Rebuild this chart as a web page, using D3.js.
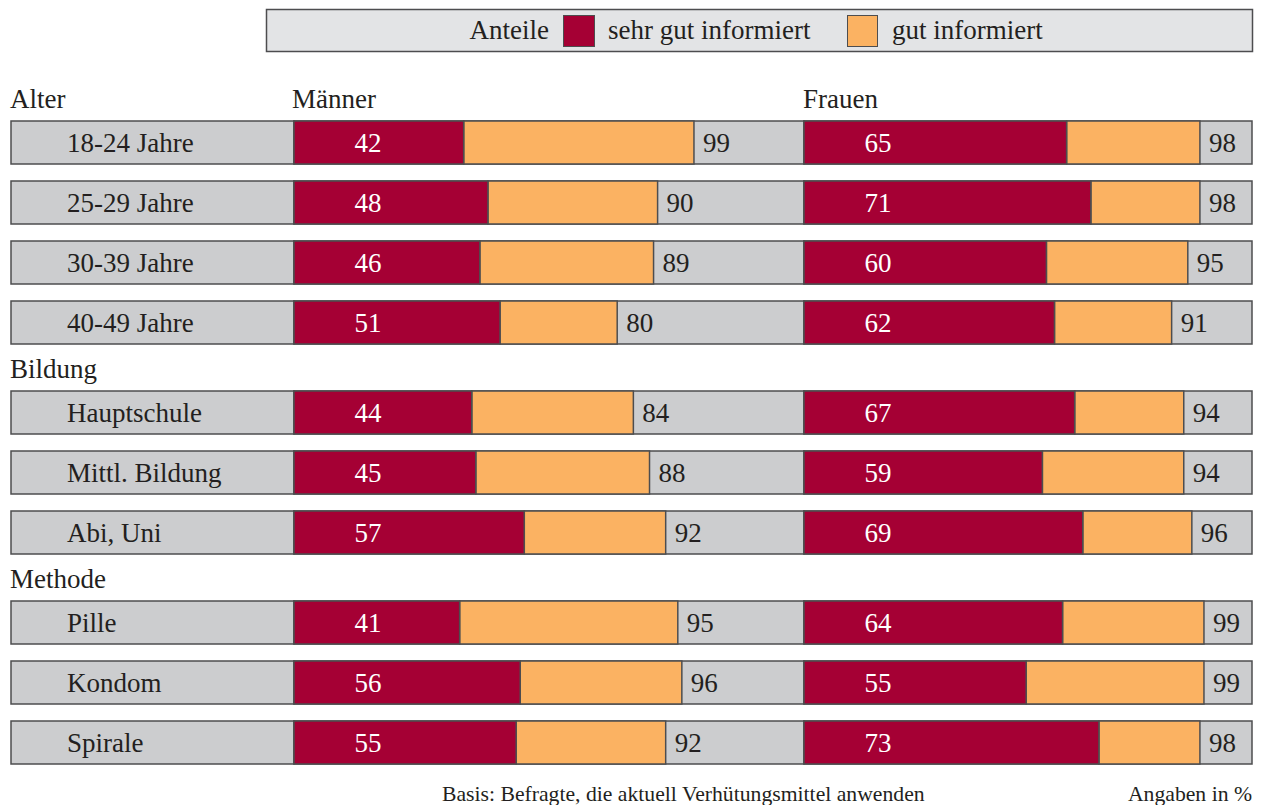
<!DOCTYPE html>
<html>
<head>
<meta charset="utf-8">
<script src="https://cdn.jsdelivr.net/npm/d3@7"></script>
<style>
  body { margin: 0; background: #fff; }
</style>
</head>
<body>
<div id="container"></div>
<script>
const width = 1262;
const height = 805;

// data
const groups = ["Alter", "Bildung", "Methode"];
const categories = ["18-24 Jahre", "25-29 Jahre", "30-39 Jahre", "40-49 Jahre",
                    "Hauptschule", "Mittl. Bildung", "Abi, Uni",
                    "Pille", "Kondom", "Spirale"];
const groupOf = [0, 0, 0, 0, 1, 1, 1, 2, 2, 2];
const menSehrGut = [42, 48, 46, 51, 44, 45, 57, 41, 56, 55];
const menTotal   = [99, 90, 89, 80, 84, 88, 92, 95, 96, 92];
const womenSehrGut = [65, 71, 60, 62, 67, 59, 69, 64, 55, 73];
const womenTotal   = [98, 98, 95, 91, 94, 94, 96, 99, 99, 98];
const panels = ["Männer", "Frauen"];
const legendLabels = ["sehr gut informiert", "gut informiert"];

const colRed = "#a50034", colOrange = "#fbb262", colGrey = "#cccdcf", colBorder = "#4d4d4f";
const ink = "#231f20";
const font = "'Liberation Serif', 'DejaVu Serif', serif";

const svg = d3.select("div#container").append("svg")
    .attr("width", width)
    .attr("height", height);

function txt(sel, size) {
    return sel.append("text")
        .style("font-family", font)
        .style("font-size", (size || 27) + "px")
        .attr("fill", ink);
}

//----------------------------SCALES----------------------------//
const rowH = 43;
// row position: index plus half a row extra for every new group
const yScale = d3.scaleLinear().domain([0, 1]).range([121, 181]);
const rowY = i => yScale(i + groupOf[i] * 0.5);

const xMen = d3.scaleLinear().domain([0, 100]).range([294, 698]);
const xWomen = d3.scaleLinear().domain([0, 100]).range([804, 1208]);
const panelEnd = [804, 1252];

//----------------------------LEGEND----------------------------//
const leg = svg.append("g");
leg.append("rect").attr("x", 266.5).attr("y", 9.5).attr("width", 986).attr("height", 42)
    .attr("fill", "#e3e4e6").attr("stroke", colBorder).attr("stroke-width", 1.5);
txt(leg).attr("x", 549).attr("y", 39).attr("text-anchor", "end").text("Anteile");
leg.append("rect").attr("x", 563.5).attr("y", 15.5).attr("width", 31).attr("height", 31)
    .attr("fill", colRed).attr("stroke", colBorder);
txt(leg).attr("x", 608).attr("y", 39).text(legendLabels[0]);
leg.append("rect").attr("x", 847.5).attr("y", 15.5).attr("width", 30).attr("height", 31)
    .attr("fill", colOrange).attr("stroke", colBorder);
txt(leg).attr("x", 892).attr("y", 39).text(legendLabels[1]);

//----------------------------HEADERS---------------------------//
txt(svg).attr("x", 292).attr("y", 108).text(panels[0]);
txt(svg).attr("x", 803).attr("y", 108).text(panels[1]);

groups.forEach(function(g, gi) {
    const first = groupOf.indexOf(gi);
    txt(svg).attr("x", 10).attr("y", rowY(first) - 13).text(g);
});

//----------------------------ROWS------------------------------//
const rows = svg.selectAll("g.row")
    .data(categories)
    .enter()
    .append("g")
    .attr("class", "row")
    .attr("transform", (d, i) => "translate(0," + rowY(i) + ")");

// label cell
rows.append("rect")
    .attr("x", 11).attr("y", 0).attr("width", 283).attr("height", rowH)
    .attr("fill", colGrey).attr("stroke", colBorder).attr("stroke-width", 1.5);
txt(rows)
    .attr("x", 67).attr("y", rowH / 2 + 9)
    .text(d => d);

function drawPanel(x, sehr, total, end) {
    // grey remainder
    rows.append("rect")
        .attr("x", x(0)).attr("y", 0)
        .attr("width", end - x(0)).attr("height", rowH)
        .attr("fill", colGrey).attr("stroke", colBorder).attr("stroke-width", 1.5);
    // gut informiert
    rows.append("rect")
        .attr("x", (d, i) => x(sehr[i])).attr("y", 0)
        .attr("width", (d, i) => x(total[i]) - x(sehr[i])).attr("height", rowH)
        .attr("fill", colOrange).attr("stroke", colBorder).attr("stroke-width", 1.5);
    // sehr gut informiert
    rows.append("rect")
        .attr("x", x(0)).attr("y", 0)
        .attr("width", (d, i) => x(sehr[i]) - x(0)).attr("height", rowH)
        .attr("fill", colRed).attr("stroke", colBorder).attr("stroke-width", 1.5);
    txt(rows)
        .attr("x", x(0) + 74).attr("y", rowH / 2 + 9)
        .attr("text-anchor", "middle")
        .attr("fill", "#fff")
        .text((d, i) => sehr[i]);
    txt(rows)
        .attr("x", (d, i) => x(total[i]) + 9).attr("y", rowH / 2 + 9)
        .text((d, i) => total[i]);
}
drawPanel(xMen, menSehrGut, menTotal, panelEnd[0]);
drawPanel(xWomen, womenSehrGut, womenTotal, panelEnd[1]);

//----------------------------FOOTER----------------------------//
txt(svg, 21.7).attr("x", 442).attr("y", 801)
    .text("Basis: Befragte, die aktuell Verhütungsmittel anwenden");
txt(svg, 21.7).attr("x", 1252).attr("y", 801).attr("text-anchor", "end")
    .text("Angaben in %");
</script>
</body>
</html>
